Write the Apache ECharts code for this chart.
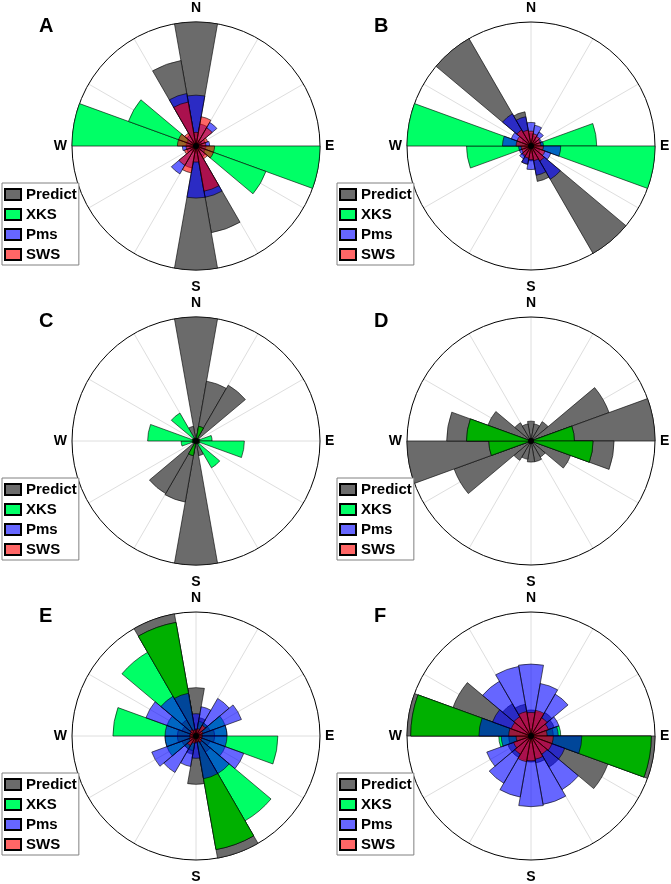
<!DOCTYPE html>
<html>
<head>
<meta charset="utf-8">
<title>Wind roses</title>
<script src="https://cdn.jsdelivr.net/npm/echarts@6/dist/echarts.min.js"></script>
<style>
  html, body { margin: 0; padding: 0; background: #fff; }
  #chart { width: 671px; height: 884px; }
</style>
</head>
<body>
<div id="chart"></div>
<script>
// direction bins, 20 degrees each, centred on 0, 20, ... 340
const bins = ['0', '20', '40', '60', '80', '100', '120', '140', '160', '180',
              '200', '220', '240', '260', '280', '300', '320', '340'];
const compass = { 0: '{n|N}', 90: '{e|E}', 180: '{s|S}', 270: '{w|W}' };
const seriesNames = ['Predict', 'XKS', 'Pms', 'SWS'];

// values as fraction of the outer circle
const predictA = [1.0, 0.05, 0.05, 0.05, 0.05, 0.05, 0.05, 0.05, 0.71, 1.0, 0.05, 0.05, 0.05, 0.05, 0.05, 0.05, 0.05, 0.70];
const xksA     = [0, 0, 0, 0, 0, 1.0, 0.60, 0, 0, 0, 0, 0, 0, 0, 1.0, 0.58, 0, 0];
const pmsA     = [0.41, 0.18, 0.22, 0.08, 0.11, 0.08, 0.08, 0.10, 0.42, 0.42, 0.18, 0.26, 0.08, 0.11, 0.08, 0.08, 0.10, 0.43];
const swsA     = [0.11, 0.24, 0.17, 0.10, 0.08, 0.15, 0.15, 0.12, 0.37, 0.13, 0.22, 0.18, 0.10, 0.08, 0.15, 0.15, 0.12, 0.36];

const predictB = [0.10, 0.08, 0.06, 0.05, 0.05, 0.06, 0.08, 1.0, 0.29, 0.12, 0.15, 0.10, 0.06, 0.05, 0.05, 0.08, 1.0, 0.28];
const xksB     = [0, 0, 0, 0, 0.53, 1.0, 0, 0, 0, 0, 0, 0, 0, 0.52, 1.0, 0, 0, 0];
const pmsB     = [0.19, 0.17, 0.13, 0.09, 0.10, 0.24, 0.17, 0.31, 0.24, 0.19, 0.15, 0.12, 0.10, 0.10, 0.23, 0.17, 0.30, 0.24];
const swsB     = [0.12, 0.10, 0.09, 0.08, 0.08, 0.10, 0.12, 0.14, 0.12, 0.11, 0.10, 0.09, 0.08, 0.08, 0.12, 0.12, 0.15, 0.13];

const predictC = [1.0, 0.49, 0.52, 0.03, 0.03, 0.03, 0.03, 0.03, 0.12, 1.0, 0.50, 0.49, 0.03, 0.03, 0.03, 0.03, 0.03, 0.12];
const xksC     = [0, 0.12, 0, 0, 0.13, 0.39, 0, 0.25, 0, 0, 0.12, 0, 0, 0.12, 0.39, 0, 0.26, 0];
const pmsC     = [0, 0, 0, 0, 0, 0, 0, 0, 0, 0, 0, 0, 0, 0, 0, 0, 0, 0];
const swsC     = [0, 0, 0, 0, 0, 0, 0, 0, 0, 0, 0, 0, 0, 0, 0, 0, 0, 0];

const predictD = [0.16, 0.14, 0.18, 0.67, 1.0, 0.67, 0.34, 0.15, 0.17, 0.17, 0.15, 0.18, 0.66, 1.0, 0.68, 0.37, 0.17, 0.14];
const xksD     = [0, 0, 0, 0, 0.35, 0.50, 0, 0, 0, 0, 0, 0, 0, 0.34, 0.52, 0, 0, 0];
const pmsD     = [0, 0, 0, 0, 0, 0, 0, 0, 0, 0, 0, 0, 0, 0, 0, 0, 0, 0];
const swsD     = [0, 0, 0, 0, 0, 0, 0, 0, 0, 0, 0, 0, 0, 0, 0, 0, 0, 0];

const predictE = [0.39, 0.15, 0.12, 0.12, 0.15, 0.15, 0.12, 0.15, 1.0, 0.39, 0.15, 0.12, 0.12, 0.15, 0.15, 0.12, 0.15, 1.0];
const xksE     = [0, 0.12, 0.12, 0.25, 0.25, 0.66, 0.25, 0.79, 0.93, 0, 0.12, 0.12, 0.25, 0.25, 0.67, 0.25, 0.78, 0.93];
const pmsE     = [0.18, 0.24, 0.35, 0.39, 0.25, 0.25, 0.41, 0.35, 0.35, 0.18, 0.25, 0.34, 0.38, 0.25, 0.25, 0.43, 0.37, 0.35];
const swsE     = [0.05, 0.06, 0.10, 0.06, 0.05, 0.05, 0.05, 0.06, 0.05, 0.05, 0.06, 0.09, 0.06, 0.05, 0.05, 0.05, 0.06, 0.05];

const predictF = [0.21, 0.20, 0.22, 0.20, 0.18, 1.0, 0.66, 0.29, 0.22, 0.21, 0.20, 0.20, 0.20, 0.18, 1.0, 0.67, 0.30, 0.26];
const xksF     = [0, 0, 0, 0, 0.24, 0.97, 0, 0, 0, 0, 0, 0, 0, 0.26, 0.97, 0, 0, 0];
const pmsF     = [0.58, 0.43, 0.39, 0.24, 0.22, 0.41, 0.29, 0.50, 0.56, 0.57, 0.50, 0.44, 0.38, 0.24, 0.42, 0.33, 0.51, 0.57];
const swsF     = [0.19, 0.21, 0.17, 0.15, 0.13, 0.18, 0.18, 0.17, 0.19, 0.20, 0.21, 0.17, 0.15, 0.12, 0.18, 0.17, 0.18, 0.20];

const panels = [
    { label: 'A', predict: predictA, xks: xksA, pms: pmsA, sws: swsA },
    { label: 'B', predict: predictB, xks: xksB, pms: pmsB, sws: swsB },
    { label: 'C', predict: predictC, xks: xksC, pms: pmsC, sws: swsC },
    { label: 'D', predict: predictD, xks: xksD, pms: pmsD, sws: swsD },
    { label: 'E', predict: predictE, xks: xksE, pms: pmsE, sws: swsE },
    { label: 'F', predict: predictF, xks: xksF, pms: pmsF, sws: swsF },
];

// layout
const colX = [0, 335];
const rowY = [0, 295, 590];
const centerDX = 196;
const centerDY = 146;
const R = 124;
const font = '"Liberation Sans", Arial, sans-serif';

const colors = {
    Predict: '#6b6b6b',
    XKS: '#00ff66',
    XKSdark: '#00b000',   // XKS where it lies on Predict
    Pms: 'rgba(0,0,255,0.6)',
    SWS: 'rgba(255,0,0,0.6)',
};

const nz = arr => arr.map(v => (v > 0 ? v : '-'));

const polar = [], angleAxis = [], radiusAxis = [], series = [];
const legend = [], title = [], graphic = [];

panels.forEach((p, i) => {
    const x0 = colX[i % 2];
    const y0 = rowY[Math.floor(i / 2)];
    const cx = x0 + centerDX;
    const cy = y0 + centerDY;
    const gIdx = i * 2;
    const bIdx = i * 2 + 1;

    polar.push({ center: [cx, cy], radius: R });
    polar.push({ center: [cx, cy], radius: R });

    // grid: outer circle, radial lines every 30 deg, compass labels
    angleAxis.push({
        polarIndex: gIdx,
        type: 'value',
        min: 0,
        max: 360,
        interval: 30,
        startAngle: 90,
        clockwise: true,
        z: 0,
        axisLine: { lineStyle: { color: '#000', width: 1 } },
        axisTick: { show: false },
        axisLabel: {
            margin: 5,
            color: '#000',
            fontSize: 14,
            fontWeight: 'bold',
            fontFamily: font,
            formatter: v => compass[v] || '',
            rich: {
                n: { fontSize: 14, fontWeight: 'bold', fontFamily: font, padding: [0, 0, 2, 0] },
                s: { fontSize: 14, fontWeight: 'bold', fontFamily: font, padding: [5, 0, 0, 0] },
                e: { fontSize: 14, fontWeight: 'bold', fontFamily: font },
                w: { fontSize: 14, fontWeight: 'bold', fontFamily: font },
            },
        },
        splitLine: { lineStyle: { color: '#dedede', width: 1 } },
    });
    radiusAxis.push({
        polarIndex: gIdx, type: 'value', min: 0, max: 1,
        axisLine: { show: false }, axisTick: { show: false },
        axisLabel: { show: false }, splitLine: { show: false },
    });

    // bars: 18 bins, bin 0 centred on north
    angleAxis.push({
        polarIndex: bIdx,
        type: 'category',
        data: bins,
        startAngle: 100,
        clockwise: true,
        boundaryGap: true,
        axisLine: { show: false },
        axisTick: { show: false },
        axisLabel: { show: false },
        splitLine: { show: false },
    });
    radiusAxis.push({
        polarIndex: bIdx, type: 'value', min: 0, max: 1,
        axisLine: { show: false }, axisTick: { show: false },
        axisLabel: { show: false }, splitLine: { show: false },
    });

    const xksOnPredict = p.xks.map((v, k) => Math.min(v, p.predict[k]));
    const layers = [
        ['Predict', p.predict, colors.Predict],
        ['XKS', p.xks, colors.XKS],
        ['XKS-on-Predict', xksOnPredict, colors.XKSdark],
        ['Pms', p.pms, colors.Pms],
        ['SWS', p.sws, colors.SWS],
    ];
    layers.forEach(([name, data, color]) => {
        series.push({
            type: 'bar',
            name: name,
            coordinateSystem: 'polar',
            polarIndex: bIdx,
            data: nz(data),
            barGap: '-100%',
            barCategoryGap: '0%',
            silent: true,
            z: 2,
            itemStyle: { color: color, borderColor: '#000', borderWidth: 0.6 },
        });
    });

    legend.push({
        data: seriesNames,
        orient: 'vertical',
        left: x0 + 2,
        top: y0 + 183,
        icon: 'rect',
        itemWidth: 16,
        itemHeight: 11,
        itemGap: 5,
        padding: [4, 2, 3, 2],
        backgroundColor: '#fff',
        borderColor: '#808080',
        borderWidth: 1,
        selectedMode: false,
        textStyle: { color: '#000', fontSize: 15, fontWeight: 'bold', fontFamily: font },
    });

    title.push({
        text: p.label,
        left: x0 + 34,
        top: y0 + 11,
        textStyle: { color: '#000', fontSize: 20, fontWeight: 'bold', fontFamily: font },
    });

    graphic.push({
        type: 'circle',
        shape: { cx: cx, cy: cy, r: 3 },
        style: { fill: '#000' },
        z: 100,
        silent: true,
    });
});

const chart = echarts.init(document.getElementById('chart'));
chart.setOption({
    animation: false,
    backgroundColor: '#fff',
    title: title,
    legend: legend,
    polar: polar,
    angleAxis: angleAxis,
    radiusAxis: radiusAxis,
    series: series,
    graphic: graphic,
});
</script>
</body>
</html>
